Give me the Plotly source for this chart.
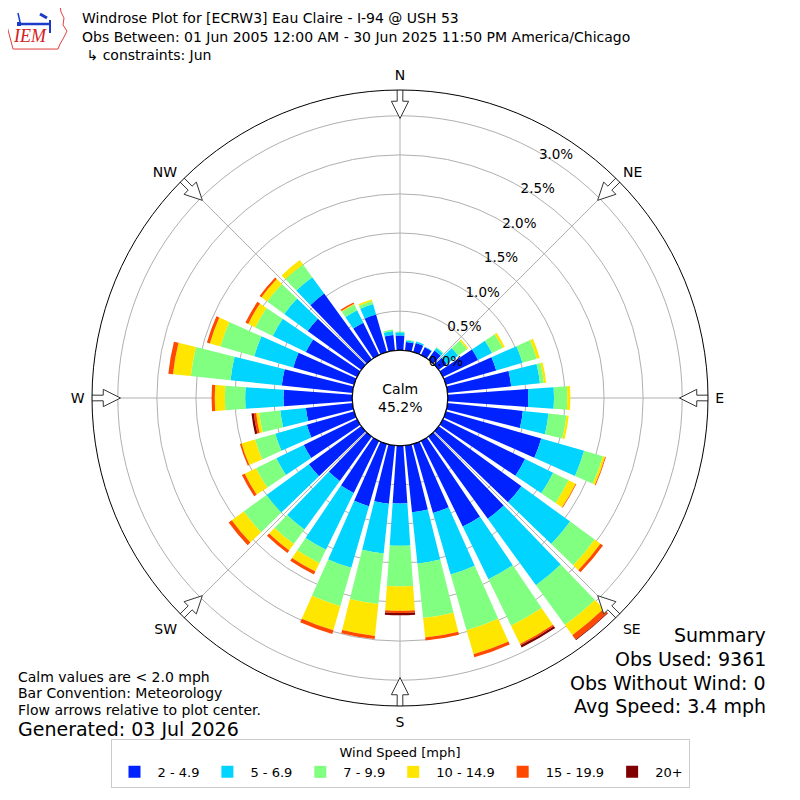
import math
import plotly.graph_objects as go

directions = list(range(0, 360, 10))
speed_bins = ['2 - 4.9', '5 - 6.9', '7 - 9.9', '10 - 14.9', '15 - 19.9', '20+']
bin_colors = ['#0022ff', '#00d4ff', '#80ff80', '#ffe600', '#ff4800', '#800000']

# percent of observations per direction (0, 10, ... 350 deg) for each speed bin
pct_2_5 = [0.19, 0.11, 0.12, 0.11, 0.14, 0.13, 0.50, 0.67, 0.82, 1.03, 0.97, 1.27,
           1.17, 1.31, 1.30, 1.22, 0.92, 0.86, 0.74, 0.75, 0.83, 0.74, 0.70, 0.83,
           0.76, 0.63, 0.60, 0.88, 0.91, 0.81, 0.73, 0.85, 1.04, 0.46, 0.50, 0.20]
pct_5_7 = [0.04, 0.02, 0.02, 0.01, 0.04, 0.18, 0.20, 0.35, 0.37, 0.33, 0.33, 0.57,
           0.40, 0.77, 1.05, 0.75, 0.82, 0.66, 0.54, 0.64, 0.82, 0.81, 0.77, 0.67,
           0.39, 0.42, 0.33, 0.49, 0.66, 0.52, 0.47, 0.37, 0.26, 0.18, 0.14, 0.05]
pct_7_10 = [0.01, 0.01, 0.00, 0.00, 0.01, 0.14, 0.15, 0.19, 0.05, 0.17, 0.23, 0.25,
            0.22, 0.39, 0.63, 0.66, 0.74, 0.70, 0.52, 0.65, 0.51, 0.19, 0.23, 0.36,
            0.29, 0.27, 0.27, 0.26, 0.51, 0.45, 0.25, 0.27, 0.20, 0.08, 0.04, 0.02]
pct_10_15 = [0.00, 0.00, 0.00, 0.00, 0.00, 0.02, 0.03, 0.04, 0.03, 0.04, 0.03, 0.03,
             0.10, 0.09, 0.16, 0.26, 0.32, 0.25, 0.31, 0.41, 0.32, 0.12, 0.10, 0.19,
             0.16, 0.18, 0.04, 0.13, 0.23, 0.14, 0.10, 0.09, 0.07, 0.01, 0.02, 0.00]
pct_15_20 = [0.00, 0.00, 0.00, 0.00, 0.00, 0.00, 0.00, 0.00, 0.00, 0.00, 0.00, 0.01,
             0.01, 0.04, 0.07, 0.02, 0.04, 0.04, 0.03, 0.04, 0.05, 0.04, 0.04, 0.05,
             0.04, 0.02, 0.03, 0.04, 0.06, 0.04, 0.04, 0.03, 0.00, 0.02, 0.00, 0.00]
pct_20p = [0.00, 0.00, 0.00, 0.00, 0.00, 0.00, 0.00, 0.00, 0.00, 0.00, 0.00, 0.00,
           0.00, 0.00, 0.01, 0.03, 0.00, 0.00, 0.03, 0.00, 0.00, 0.00, 0.00, 0.00,
           0.00, 0.00, 0.03, 0.00, 0.00, 0.00, 0.00, 0.00, 0.00, 0.00, 0.00, 0.00]
all_bins = [pct_2_5, pct_5_7, pct_7_10, pct_10_15, pct_15_20, pct_20p]

calm_pct = 45.2
radial_ticks = [0.0, 0.5, 1.0, 1.5, 2.0, 2.5, 3.0]
compass = ['N', 'NE', 'E', 'SE', 'S', 'SW', 'W', 'NW']

R_MAX = 3.33
HOLE = 0.155
PLOT_R = 303  # polar radius in px
OFF = 8       # page body margin


def px_to_r(p):
    return (p - HOLE * PLOT_R) / (PLOT_R * (1 - HOLE)) * R_MAX


def px(x, y):
    return (x - OFF) / 800, 1 - (y - OFF) / 800


fig = go.Figure()

for name, vals, col in zip(speed_bins, all_bins, bin_colors):
    fig.add_trace(go.Barpolar(r=vals, theta=directions, width=8, name=name,
                              marker=dict(color=col, line=dict(width=0))))

# calm circle
fig.add_trace(go.Scatterpolar(r=[0] * 181, theta=list(range(0, 362, 2)), mode='lines',
                              line=dict(color='black', width=1.2), showlegend=False,
                              hoverinfo='skip'))

# flow arrows
r_out, r_neck, r_tip = px_to_r(306), px_to_r(292), px_to_r(275)
ws = math.degrees(math.atan(2.8 / 300))
wh = math.degrees(math.atan(8.5 / 292))
for k in range(8):
    d = k * 45
    fig.add_trace(go.Scatterpolar(
        r=[r_out, r_neck, r_neck, r_tip, r_neck, r_neck, r_out, r_out],
        theta=[d - ws, d - ws, d - wh, d, d + wh, d + ws, d + ws, d - ws],
        mode='lines', fill='toself', fillcolor='white',
        line=dict(color='#333333', width=1), showlegend=False,
        hoverinfo='skip', cliponaxis=False))

half = 308
x0, y0 = px(400 - half, 398 + half)
x1, y1 = px(400 + half, 398 - half)

fig.update_layout(
    width=800, height=800,
    margin=dict(l=0, r=0, t=0, b=0),
    paper_bgcolor='white',
    font=dict(family='DejaVu Sans', size=13, color='black'),
    polar=dict(
        domain=dict(x=[x0, x1], y=[y0, y1]),
        hole=HOLE,
        bgcolor='white',
        barmode='stack',
        radialaxis=dict(range=[0, R_MAX], tickvals=radial_ticks,
                        ticktext=['%.1f%%' % v for v in radial_ticks],
                        angle=62, side='clockwise', tickangle=62, showline=False,
                        ticks='', gridcolor='#b0b0b0', gridwidth=1,
                        layer='above traces', tickfont=dict(size=13.5)),
        angularaxis=dict(rotation=90, direction='clockwise',
                         tickvals=[k * 45 for k in range(8)], ticktext=compass,
                         showline=True, linecolor='black', linewidth=1,
                         gridcolor='#b0b0b0', gridwidth=1, ticks='outside',
                         ticklen=4, tickcolor='rgba(0,0,0,0)',
                         layer='above traces', tickfont=dict(size=14)),
    ),
    legend=dict(orientation='h', x=px(400, 0)[0], xanchor='center',
                y=px(0, 788)[1], yanchor='bottom',
                title=dict(text='Wind Speed [mph]', side='top center', font=dict(size=13)),
                bordercolor='#cccccc', borderwidth=1, font=dict(size=13),
                itemwidth=36, traceorder='normal'),
)

ann = []
for txt, y in [('Windrose Plot for [ECRW3] Eau Claire - I-94 @ USH 53', 18),
               ('Obs Between: 01 Jun 2005 12:00 AM - 30 Jun 2025 11:50 PM America/Chicago', 37),
               (' ↳ constraints: Jun', 55)]:
    ann.append(dict(x=px(80, y)[0], y=px(80, y)[1], text=txt, xanchor='left',
                    yanchor='middle', font=dict(size=14)))
ann.append(dict(x=px(400, 398)[0], y=px(400, 398)[1], text='Calm<br>%.1f%%' % calm_pct,
                xanchor='center', yanchor='middle', font=dict(size=14)))
for txt, y in [('Calm values are < 2.0 mph', 677), ('Bar Convention: Meteorology', 693),
               ('Flow arrows relative to plot center.', 710)]:
    ann.append(dict(x=px(16, y)[0], y=px(16, y)[1], text=txt, xanchor='left',
                    yanchor='middle', font=dict(size=14)))
ann.append(dict(x=px(16, 729)[0], y=px(16, 729)[1], text='Generated: 03 Jul 2026',
                xanchor='left', yanchor='middle', font=dict(size=19)))
for txt, y in [('Summary', 635), ('Obs Used: 9361', 659), ('Obs Without Wind: 0', 683),
               ('Avg Speed: 3.4 mph', 706)]:
    ann.append(dict(x=px(768, y)[0], y=px(768, y)[1], text=txt, xanchor='right',
                    yanchor='middle', font=dict(size=19)))
ann.append(dict(x=px(30, 36)[0], y=px(30, 36)[1], text='<i>IEM</i>', xanchor='center',
                yanchor='middle',
                font=dict(size=18, family='Liberation Serif', color='#d42020')))
for a in ann:
    a.update(xref='paper', yref='paper', showarrow=False)
fig.update_layout(annotations=ann)

# IEM logo outline (Iowa) + glyph
iowa = [(6, 6), (60, 6), (61, 12), (64, 18), (63, 25), (67, 31), (63, 39), (60, 44),
        (58, 49), (13, 49), (11, 41), (8, 30), (5, 18), (6, 6)]
path = 'M ' + ' L '.join('%.4f,%.4f' % px(x, y) for x, y in iowa) + ' Z'
shapes = [dict(type='path', path=path, xref='paper', yref='paper',
               line=dict(color='#e04040', width=1))]
for (a0, b0, a1, b1, w) in [(19, 24, 50, 24, 2.5), (18, 13, 20, 22, 1.5),
                            (40, 14, 47, 18, 3), (50, 20, 50, 33, 2), (19, 22, 19, 26, 4)]:
    p0 = px(a0, b0)
    p1 = px(a1, b1)
    shapes.append(dict(type='line', x0=p0[0], y0=p0[1], x1=p1[0], y1=p1[1],
                       xref='paper', yref='paper',
                       line=dict(color='#1a3cc8', width=w)))
fig.update_layout(shapes=shapes)

fig.write_html('out.html')
